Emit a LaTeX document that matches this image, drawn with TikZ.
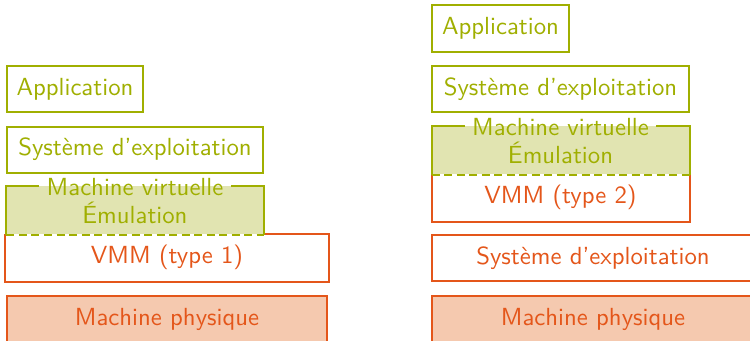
\documentclass[tikz,border=0pt]{standalone}
\usepackage{fontspec}
\definecolor{vmgreen}{HTML}{A0AF00}
\definecolor{vmgreenfill}{HTML}{E1E4B1}
\definecolor{hworange}{HTML}{E4561A}
\definecolor{hworangefill}{HTML}{F5C9AF}
\begin{document}
\begin{tikzpicture}[x=0.4pt,y=-0.4pt,
  every node/.style={font=\sffamily\fontsize{9.9pt}{12pt}\selectfont, inner sep=0pt},
  layer/.style={rectangle, line width=0.8pt, minimum height=18.4pt},
  guest/.style={layer, draw=vmgreen, text=vmgreen, fill=white},
  host/.style={layer, draw=hworange, text=hworange, fill=white},
  metal/.style={layer, draw=hworange, text=hworange, fill=hworangefill},
  vmfill/.style={rectangle, fill=vmgreenfill, minimum height=19.2pt},
  vmtext/.style={text=vmgreen},
  vmline/.style={draw=vmgreen, line width=0.8pt},
  vmmbox/.style={rectangle, minimum height=18.8pt, text=hworange},
  vmmline/.style={draw=hworange, line width=0.8pt},
  gapsep/.style={inner xsep=2.8pt}
]
\useasboundingbox (0,0) rectangle (750,340);
\clip (0,0) rectangle (750,340);

% ---------- type 1 stack ----------
\node[guest, minimum width=54.4pt] (app1) at (75,89) {Application};
\node[guest, minimum width=102.4pt] (os1) at (135,149.5) {Syst\`eme d'exploitation};
\node[vmfill, minimum width=102.4pt] (mv1) at (135,210) {};
\node[vmtext, gapsep] (mvt1) at (135,187) {Machine virtuelle};
\node[vmtext] (emu1) at (135,213) {\'Emulation};
\node[vmmbox, minimum width=128.8pt] (vmm1) at (167,257.5) {VMM (type 1)};
\draw[vmmline] (vmm1.north west) -- (vmm1.south west) -- (vmm1.south east) -- (vmm1.north east) -- (vmm1.north -| mv1.east);
\draw[vmline] (mvt1.west |- mv1.north) -- (mv1.north west) -- (mv1.south west);
\draw[vmline] (mvt1.east |- mv1.north) -- (mv1.north east) -- (mv1.south east);
\draw[vmline, dash pattern=on 3.2pt off 1.8pt] (mv1.south west) -- (mv1.south east);
\node[metal, minimum width=128pt] (hw1) at (167,319) {Machine physique};

% ---------- type 2 stack ----------
\node[guest, minimum width=54.8pt] (app2) at (500.5,28.5) {Application};
\node[guest, minimum width=102.8pt] (os2) at (560.5,89) {Syst\`eme d'exploitation};
\node[vmfill, minimum width=102.8pt] (mv2) at (560.5,150) {};
\node[vmtext, gapsep] (mvt2) at (560.5,127) {Machine virtuelle};
\node[vmtext] (emu2) at (560.5,153) {\'Emulation};
\node[vmmbox, minimum width=102.8pt] (vmm2) at (560.5,197.5) {VMM (type 2)};
\draw[vmmline] (vmm2.north west) -- (vmm2.south west) -- (vmm2.south east) -- (vmm2.north east);
\draw[vmline] (mvt2.west |- mv2.north) -- (mv2.north west) -- (mv2.south west);
\draw[vmline] (mvt2.east |- mv2.north) -- (mv2.north east) -- (mv2.south east);
\draw[vmline, dash pattern=on 3.2pt off 1.8pt] (mv2.south west) -- (mv2.south east);
\node[host, minimum width=128.8pt] (os3) at (593,258) {Syst\`eme d'exploitation};
\node[metal, minimum width=128.8pt] (hw2) at (593,319) {Machine physique};
\end{tikzpicture}
\end{document}
